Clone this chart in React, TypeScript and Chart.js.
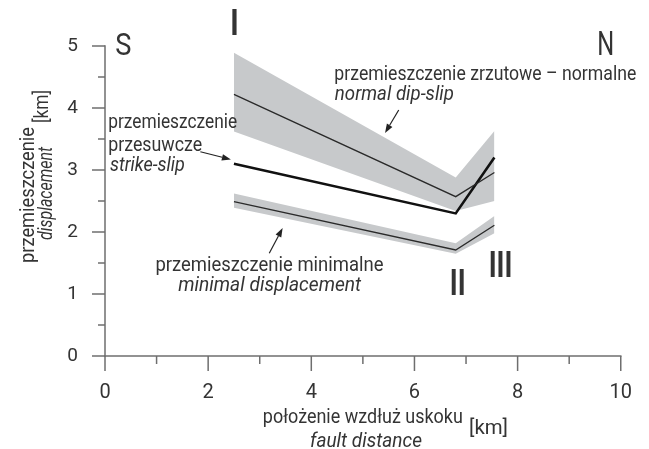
import React, { useEffect, useRef } from 'react';
import { Chart, registerables } from 'chart.js';

Chart.register(...registerables);

// ---- data ----
const faultX = [2.5, 6.8, 7.55];
const normalMid = [4.22, 2.57, 2.96];
const normalUpper = [4.89, 2.88, 3.63];
const normalLower = [3.62, 2.34, 2.5];
const strikeSlip = [3.1, 2.3, 3.2];
const minimalMid = [2.49, 1.71, 2.11];
const minimalUpper = [2.62, 1.82, 2.26];
const minimalLower = [2.39, 1.65, 1.98];
const xTickLabels = ['0', '2', '4', '6', '8', '10'];
const yTickLabels = ['0', '1', '2', '3', '4', '5'];

// ---- styles ----
const FONT = 'Roboto, "Liberation Sans", sans-serif';
const TEXT = '#343434';
const AXIS = '#6e6e6e';
const BAND = '#c7c9cb';
const LINE = '#2a2a2a';

type Label = { text: string; x: number; y: number; size: number; italic?: boolean; bold?: boolean; width?: number; sx?: number; rotate?: boolean };

const labels: Label[] = [
  { text: 'S', x: 0.2, y: 4.855, size: 32, sx: 0.85 },
  { text: 'N', x: 9.546, y: 4.855, size: 33, sx: 0.72 },
  { text: 'I', x: 2.43, y: 5.177, size: 36, bold: true, sx: 0.8 },
  { text: 'II', x: 6.685, y: 0.984, size: 36, bold: true, sx: 0.75 },
  { text: 'III', x: 7.44, y: 1.274, size: 36, bold: true, sx: 0.75 },
  { text: 'przemieszczenie zrzutowe – normalne', x: 4.447, y: 4.452, size: 21, width: 302 },
  { text: 'normal dip-slip', x: 4.457, y: 4.129, size: 21, italic: true, width: 119 },
  { text: 'przemieszczenie', x: 0.062, y: 3.677, size: 21, width: 129 },
  { text: 'przesuwcze', x: 0.062, y: 3.306, size: 21, width: 94 },
  { text: 'strike-slip', x: 0.095, y: 2.984, size: 21, italic: true, width: 75 },
  { text: 'przemieszczenie minimalne', x: 0.978, y: 1.371, size: 21, width: 228 },
  { text: 'minimal displacement', x: 1.419, y: 1.048, size: 21, italic: true, width: 183 },
  { text: 'położenie wzdłuż uskoku', x: 3.06, y: -1.08, size: 21, width: 200 },
  { text: 'fault distance', x: 3.974, y: -1.468, size: 21, italic: true, width: 112 },
  { text: '[km]', x: 7.058, y: -1.258, size: 21, width: 39 },
  { text: 'przemieszczenie', x: -1.381, y: 1.5, size: 21, width: 136, rotate: true },
  { text: 'displacement', x: -1.022, y: 1.871, size: 21, italic: true, width: 93, rotate: true },
  { text: '[km]', x: -1.097, y: 3.758, size: 21, width: 33, rotate: true },
];

const arrows = [
  { from: [5.695, 3.968], to: [5.43, 3.597] },
  { from: [1.849, 3.295], to: [2.441, 3.169] },
  { from: [3.185, 1.656], to: [3.444, 2.065] },
];

const pts = (ys: number[]) => faultX.map((x, i) => ({ x, y: ys[i] }));

const decor = {
  id: 'decor',
  afterDraw(chart: any) {
    const { ctx } = chart;
    const xs = chart.scales.x;
    const ys = chart.scales.y;
    const px = (v: number) => xs.getPixelForValue(v);
    const py = (v: number) => ys.getPixelForValue(v);
    ctx.save();
    ctx.strokeStyle = AXIS;
    ctx.lineWidth = 1.5;
    ctx.lineCap = 'square';
    const seg = (a: number, b: number, c: number, d: number) => {
      ctx.beginPath();
      ctx.moveTo(a, b);
      ctx.lineTo(c, d);
      ctx.stroke();
    };
    const x0 = px(0), x10 = px(10), y0 = py(0), y5 = py(5);
    seg(x0, y5, x0, y0);
    seg(x0, y0, x10, y0);
    ctx.lineCap = 'butt';
    for (let i = 0; i <= 10; i++) {
      const p = py(i / 2);
      const len = i % 2 === 0 ? 13 : 7;
      seg(x0 - len, p, x0, p);
    }
    for (let v = 0; v <= 10; v++) {
      const p = px(v);
      const len = v % 2 === 0 ? 15 : 8;
      seg(p, y0, p, y0 + len);
    }
    // arrows
    ctx.strokeStyle = '#222';
    ctx.fillStyle = '#222';
    ctx.lineWidth = 1.2;
    for (const a of arrows) {
      const ax = px(a.from[0]), ay = py(a.from[1]);
      const bx = px(a.to[0]), by = py(a.to[1]);
      const ang = Math.atan2(by - ay, bx - ax);
      const hl = 9, hw = 3.2;
      const baseX = bx - hl * Math.cos(ang), baseY = by - hl * Math.sin(ang);
      seg(ax, ay, baseX, baseY);
      ctx.beginPath();
      ctx.moveTo(bx, by);
      ctx.lineTo(baseX + hw * Math.sin(ang), baseY - hw * Math.cos(ang));
      ctx.lineTo(baseX - hw * Math.sin(ang), baseY + hw * Math.cos(ang));
      ctx.closePath();
      ctx.fill();
    }
    // labels
    ctx.fillStyle = TEXT;
    ctx.textBaseline = 'alphabetic';
    ctx.textAlign = 'left';
    for (const t of labels) {
      ctx.font = `${t.italic ? 'italic ' : ''}${t.bold ? 'bold ' : ''}${t.size}px ${FONT}`;
      const w = ctx.measureText(t.text).width;
      const sx = t.width ? t.width / w : (t.sx ?? 1);
      ctx.save();
      ctx.translate(px(t.x), py(t.y));
      if (t.rotate) ctx.rotate(-Math.PI / 2);
      ctx.scale(sx, 1);
      ctx.fillText(t.text, 0, 0);
      ctx.restore();
    }
    ctx.restore();
  },
};

export default function App() {
  const ref = useRef<HTMLCanvasElement | null>(null);
  useEffect(() => {
    if (!ref.current) return;
    const lineDs = (data: number[], width: number, color: string) => ({
      data: pts(data),
      borderColor: color,
      borderWidth: width,
      pointRadius: 0,
      tension: 0,
      fill: false,
      borderJoinStyle: 'miter' as const,
    });
    const bandDs = (data: number[], fill: any) => ({
      data: pts(data),
      borderWidth: 0,
      borderColor: 'rgba(0,0,0,0)',
      backgroundColor: BAND,
      pointRadius: 0,
      tension: 0,
      fill,
    });
    const chart = new Chart(ref.current, {
      type: 'line',
      data: {
        datasets: [
          lineDs(normalMid, 1.3, LINE),
          lineDs(strikeSlip, 2.6, '#111'),
          lineDs(minimalMid, 1.3, LINE),
          bandDs(normalUpper, '+1'),
          bandDs(normalLower, false),
          bandDs(minimalUpper, '+1'),
          bandDs(minimalLower, false),
        ],
      },
      options: {
        responsive: false,
        animation: false,
        events: [],
        layout: { padding: { left: 0, top: 46, right: 15.5, bottom: 0 } },
        plugins: {
          legend: { display: false },
          tooltip: { enabled: false },
          filler: { drawTime: 'beforeDatasetsDraw' },
        },
        scales: {
          x: {
            type: 'linear',
            min: 0,
            max: 10,
            grid: { display: false },
            border: { display: false },
            ticks: {
              stepSize: 2,
              padding: 17,
              color: TEXT,
              font: { family: FONT, size: 20 },
              maxRotation: 0,
              callback: (_v: any, i: number) => xTickLabels[i],
            },
            afterFit: (s: any) => { s.height = 93; },
          },
          y: {
            type: 'linear',
            min: 0,
            max: 5,
            grid: { display: false },
            border: { display: false },
            ticks: {
              stepSize: 1,
              padding: 19,
              color: TEXT,
              font: { family: FONT, size: 19 },
              callback: (_v: any, i: number) => yTickLabels[i],
            },
            afterFit: (s: any) => { s.width = 105; },
          },
        },
      } as any,
      plugins: [decor],
    });
    return () => chart.destroy();
  }, []);
  return (
    <div style={{ position: 'absolute', left: 0, top: 0, width: 649, height: 449, background: '#fff' }}>
      <canvas ref={ref} width={649} height={449} style={{ width: 649, height: 449, display: 'block' }} />
    </div>
  );
}
